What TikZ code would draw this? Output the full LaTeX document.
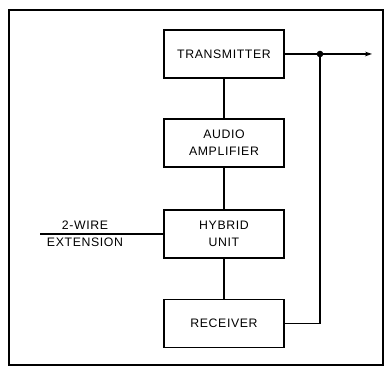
\documentclass[tikz,border=0pt]{standalone}
\usepackage{fontspec}
\setmainfont{Liberation Sans}[LetterSpace=5]
\usepackage{tikz}
\usetikzlibrary{arrows.meta,positioning}

\begin{document}
\begin{tikzpicture}[
    block/.style={rectangle, draw, line width=1.2pt, minimum width=3.6cm, minimum height=1.44cm, align=center, font=\fontsize{10.5}{14.5}\selectfont},
    wire/.style={line width=1.2pt},
    >={Stealth[length=6pt,width=4pt]}
]
    \useasboundingbox (0,0) rectangle (11.52,11.04);
    % Frame
    \draw[line width=0.9pt] (0.27,0.09) rectangle (11.49,10.74);

    % Blocks
    \node[block] (tx) at (6.72,9.42) {TRANSMITTER};
    \node[block] (amp) at (6.72,6.75) {AUDIO\\AMPLIFIER};
    \node[block] (hyb) at (6.72,4.02) {HYBRID\\UNIT};
    \node[block] (rx) at (6.72,1.34) {RECEIVER};

    % Chain
    \draw[wire] (tx) -- (amp);
    \draw[wire] (amp) -- (hyb);
    \draw[wire] (hyb) -- (rx);

    % Output and loop back from receiver
    \coordinate (jn) at (9.6,9.42);
    \coordinate (out) at (11.16,9.42);
    \draw[wire, ->] (tx.east) -- (out);
    \draw[wire] (rx.east) -| (jn);
    \fill (jn) circle (2.8pt);

    % 2-wire extension
    \coordinate (ext) at (1.2,4.02);
    \draw[wire] (ext) -- (hyb.west);
    \node[font=\fontsize{10.5}{12}\selectfont, above=0pt] (extA) at (2.55,4.02) {2-WIRE};
    \node[font=\fontsize{10.5}{12}\selectfont, below=0pt] (extB) at (2.55,4.02) {EXTENSION};
\end{tikzpicture}
\end{document}
